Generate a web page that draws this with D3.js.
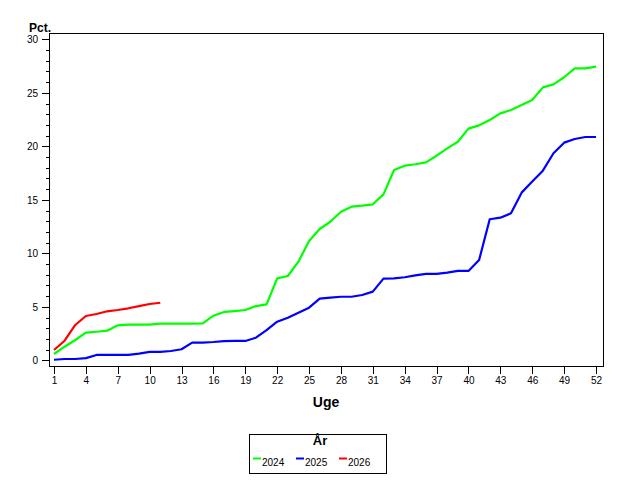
<!DOCTYPE html>
<html>
<head>
<meta charset="utf-8">
<script src="https://cdn.jsdelivr.net/npm/d3@7"></script>
<style>
  body { margin: 0; background: #fff; }
  svg { font-family: "Liberation Sans", Arial, sans-serif; }
  .axis text { font-size: 10px; fill: #000; }
  .axis line { stroke: #000; shape-rendering: crispEdges; }
  .axis path { display: none; }
  .line { fill: none; stroke-width: 2.2; stroke-linejoin: round; }
</style>
</head>
<body>
<div id="chart"></div>
<script>
// weeks 1..52
var weeks = d3.range(1, 53);
var years = ["2024", "2025", "2026"];
var colors = ["#00ff00", "#0000ff", "#ff0000"];

var pct2024 = [0.59, 1.27, 1.9, 2.58, 2.67, 2.77, 3.27, 3.33, 3.33, 3.33,
    3.42, 3.42, 3.42, 3.42, 3.45, 4.17, 4.52, 4.6, 4.7, 5.07,
    5.23, 7.66, 7.88, 9.22, 11.15, 12.27, 12.95, 13.89, 14.36, 14.45,
    14.58, 15.51, 17.78, 18.19, 18.32, 18.5, 19.12, 19.81, 20.43, 21.65,
    21.96, 22.46, 23.08, 23.39, 23.86, 24.33, 25.51, 25.79, 26.45, 27.29,
    27.29, 27.44];
var pct2025 = [0.05, 0.12, 0.12, 0.2, 0.5, 0.5, 0.5, 0.5, 0.62, 0.78,
    0.78, 0.87, 1.03, 1.65, 1.65, 1.71, 1.8, 1.81, 1.81, 2.11,
    2.83, 3.61, 3.98, 4.45, 4.92, 5.76, 5.85, 5.94, 5.94, 6.1,
    6.42, 7.63, 7.66, 7.76, 7.94, 8.07, 8.07, 8.19, 8.35, 8.35,
    9.37, 13.18, 13.33, 13.74, 15.67, 16.7, 17.72, 19.35, 20.34, 20.68,
    20.87, 20.87];
var pct2026 = [0.96, 1.83, 3.3, 4.14, 4.33, 4.58, 4.7, 4.86, 5.07, 5.26, 5.38];

var xTicks = d3.range(1, 53, 3);
var yTicks = [0, 5, 10, 15, 20, 25, 30];
var yMinor = d3.range(0, 31, 1);

var series = [pct2024, pct2025, pct2026];

var svg = d3.select("#chart").append("svg")
    .attr("width", 640)
    .attr("height", 480);

var frame = { left: 49, top: 33, right: 603, bottom: 366 };

var x = d3.scaleLinear().domain([1, 52]).range([54, 596]);
var y = d3.scaleLinear().domain([0, 30]).range([360.3, 39.3]);

// plot frame
svg.append("rect")
    .attr("x", frame.left + 0.5)
    .attr("y", frame.top + 0.5)
    .attr("width", frame.right - frame.left)
    .attr("height", frame.bottom - frame.top)
    .attr("fill", "none")
    .attr("stroke", "#000")
    .attr("stroke-width", 1.3)
    .style("shape-rendering", "crispEdges");

// minor y ticks
svg.append("g")
    .attr("class", "axis")
    .attr("transform", "translate(" + frame.left + ",0)")
    .call(d3.axisLeft(y).tickValues(yMinor).tickSize(3).tickFormat(""));

svg.append("g")
    .attr("class", "axis")
    .attr("transform", "translate(" + frame.left + ",0)")
    .call(d3.axisLeft(y).tickValues(yTicks).tickSize(7).tickPadding(4));

svg.append("g")
    .attr("class", "axis")
    .attr("transform", "translate(0," + (frame.bottom + 0.5) + ")")
    .call(d3.axisBottom(x).tickValues(xTicks).tickSize(7).tickPadding(3));

svg.append("text")
    .attr("x", 29)
    .attr("y", 32)
    .style("font-size", "12px")
    .style("font-weight", "bold")
    .text("Pct.");

svg.append("text")
    .attr("x", 326)
    .attr("y", 407)
    .attr("text-anchor", "middle")
    .style("font-size", "14px")
    .style("font-weight", "bold")
    .text("Uge");

var line = d3.line()
    .x(function (d, i) { return x(weeks[i]); })
    .y(function (d) { return y(d); });

svg.selectAll(".line")
    .data(series)
    .enter().append("path")
    .attr("class", "line")
    .attr("stroke", function (d, i) { return colors[i]; })
    .attr("d", line);

// legend
var legend = svg.append("g");
legend.append("rect")
    .attr("x", 249.5)
    .attr("y", 434.5)
    .attr("width", 137)
    .attr("height", 39)
    .attr("fill", "#fff")
    .attr("stroke", "#000")
    .attr("stroke-width", 1.3)
    .style("shape-rendering", "crispEdges");

legend.append("text")
    .attr("x", 320)
    .attr("y", 445)
    .attr("text-anchor", "middle")
    .style("font-size", "13px")
    .style("font-weight", "bold")
    .text("År");

var items = legend.selectAll(".item")
    .data(years)
    .enter().append("g")
    .attr("class", "item")
    .attr("transform", function (d, i) { return "translate(" + (253 + i * 43) + ",0)"; });

items.append("line")
    .attr("x1", 0)
    .attr("x2", 8)
    .attr("y1", 458.5)
    .attr("y2", 458.5)
    .attr("stroke", function (d, i) { return colors[i]; })
    .attr("stroke-width", 2);

items.append("text")
    .attr("x", 9)
    .attr("y", 466)
    .style("font-size", "10px")
    .text(function (d) { return d; });
</script>
</body>
</html>
